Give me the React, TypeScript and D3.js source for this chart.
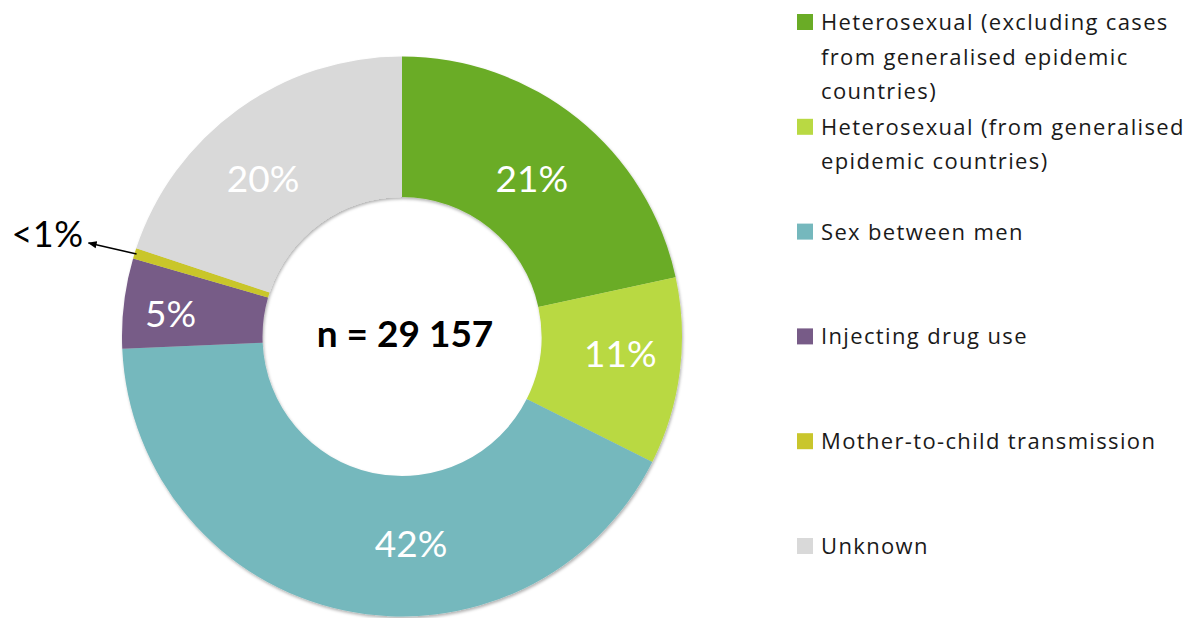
import React from "react";
import * as d3 from "d3";

// ---- data ----
const categories = [
  "Heterosexual (excluding cases from generalised epidemic countries)",
  "Heterosexual (from generalised epidemic countries)",
  "Sex between men",
  "Injecting drug use",
  "Mother-to-child transmission",
  "Unknown",
];
const legendLines = [
  ["Heterosexual (excluding cases", "from generalised epidemic", "countries)"],
  ["Heterosexual (from generalised", "epidemic countries)"],
  ["Sex between men"],
  ["Injecting drug use"],
  ["Mother-to-child transmission"],
  ["Unknown"],
];
const values = [21.6, 10.8, 41.9, 5.2, 0.6, 19.9];
const pctLabels = ["21%", "11%", "42%", "5%", "<1%", "20%"];
const totalLabel = "n = 29 157";
const colors = ["#6aac26", "#b9d943", "#75b8bd", "#775b87", "#c9c62c", "#d9d9d9"];

// label nudges relative to arc centroid (layout only)
const labelNudge: [number, number][] = [
  [-2, 5],
  [10, -9],
  [53, 2],
  [-23, 2],
  [0, 0],
  [-16, 12],
];

const W = 1189;
const H = 618;
const cx = 402;
const cy = 336.5;
const outerR = 280;
const innerR = 139.5;
const FONT = "Lato, 'Open Sans', sans-serif";
const LEGEND_FONT = "'Open Sans', Lato, sans-serif";

export default function App() {
  const pie = d3
    .pie<number>()
    .sort(null)
    .value((d) => d)
    .startAngle(0)
    .endAngle(2 * Math.PI);
  const arcs = pie(values);
  const arc = d3.arc<d3.PieArcDatum<number>>().innerRadius(innerR).outerRadius(outerR);
  const labelArc = d3.arc<d3.PieArcDatum<number>>().innerRadius(210).outerRadius(210);
  const edgeArc = d3.arc<d3.PieArcDatum<number>>().innerRadius(278).outerRadius(278);

  const legendY = d3
    .scalePoint<number>()
    .domain(d3.range(categories.length))
    .range([22, 546]);

  const small = arcs[4];
  const [ex, ey] = edgeArc.centroid(small);
  const tipX = ex - 48;
  const tipY = ey - 11;

  return (
    <svg
      width={W}
      height={H}
      style={{ position: "absolute", left: 0, top: 0, background: "#fff" }}
      fontFamily={FONT}
    >
      <defs>
        <filter id="sh" x="-10%" y="-10%" width="120%" height="120%">
          <feDropShadow dx="1" dy="2" stdDeviation="1.8" floodColor="#000" floodOpacity="0.3" />
        </filter>
        <marker
          id="arrow"
          viewBox="0 0 10 10"
          refX="9"
          refY="5"
          markerWidth="9"
          markerHeight="9"
          orient="auto"
          markerUnits="userSpaceOnUse"
        >
          <path d="M0,1 L10,5 L0,9 Z" fill="#000" />
        </marker>
      </defs>
      <g transform={`translate(${cx},${cy})`}>
        <g filter="url(#sh)">
          {arcs.map((a, i) => (
            <path key={i} d={arc(a) || ""} fill={colors[i]} />
          ))}
        </g>
        {arcs.map((a, i) => {
          if (i === 4) return null;
          const [x, y] = labelArc.centroid(a);
          return (
            <text
              key={i}
              x={x + labelNudge[i][0]}
              y={y + labelNudge[i][1] + 13.5}
              fill="#fff"
              fontSize={37}
              textAnchor="middle"
            >
              {pctLabels[i]}
            </text>
          );
        })}
        <line
          x1={ex}
          y1={ey}
          x2={tipX}
          y2={tipY}
          stroke="#000"
          strokeWidth={1.6}
          markerEnd="url(#arrow)"
        />
        <text
          x={tipX - 5}
          y={tipY + 4}
          fontSize={36}
          letterSpacing={0.5}
          textAnchor="end"
          fill="#000"
        >
          {pctLabels[4]}
        </text>
        <text x={3} y={10.5} fontSize={37} fontWeight="bold" textAnchor="middle" fill="#000">
          {totalLabel}
        </text>
      </g>
      <g fontFamily={LEGEND_FONT}>
        {categories.map((c, i) => {
          const y0 = legendY(i) as number;
          return (
            <g key={c}>
              <rect x={797} y={y0 - 8} width={16} height={16} fill={colors[i]} />
              {legendLines[i].map((ln, j) => (
                <text
                  key={j}
                  x={821}
                  y={y0 + 8 + j * 34.5}
                  fontSize={22}
                  letterSpacing={1.35}
                  fill="#1a1a1a"
                >
                  {ln}
                </text>
              ))}
            </g>
          );
        })}
      </g>
    </svg>
  );
}
